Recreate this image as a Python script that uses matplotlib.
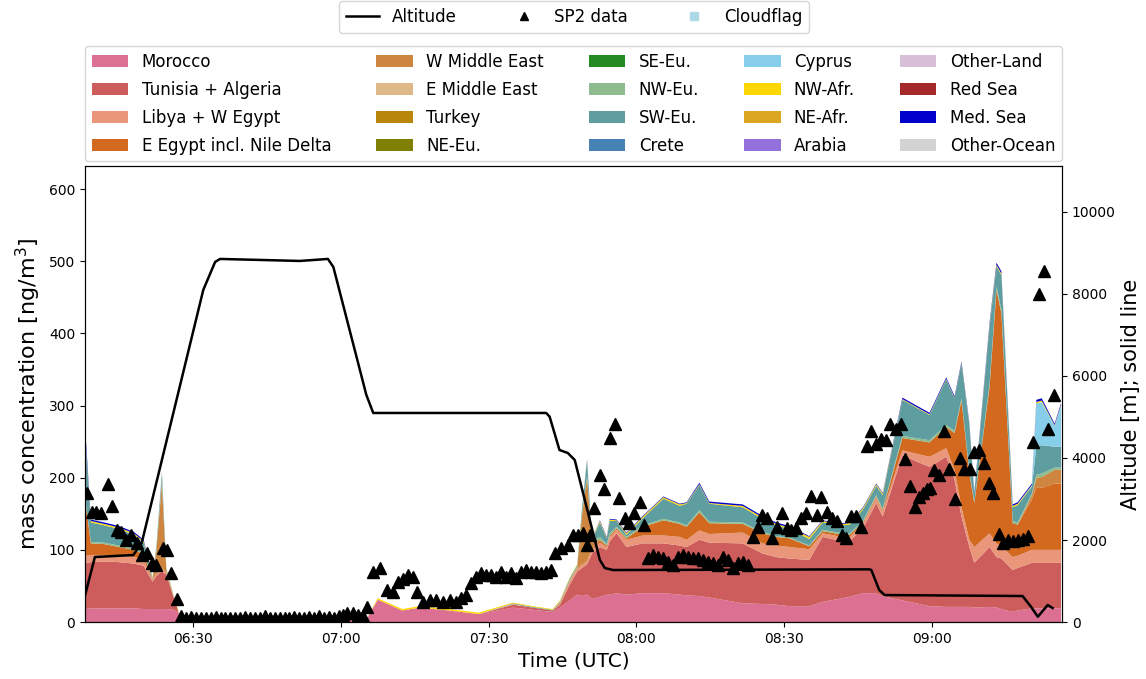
import numpy as np
import pandas as pd
import matplotlib
matplotlib.use('Agg')
import matplotlib.pyplot as plt
import matplotlib.dates as mdates

base = pd.Timestamp('2000-01-01 06:00')

# model output times (minutes after 06:00 UTC)
t_mod = [8.3, 9.3, 12, 15, 18, 20, 21.8, 22.6, 23.7, 24.6,
         26, 27.0, 27.6, 60, 61.5, 63.5, 65.0, 67.5, 72.5, 76,
         82, 88, 95, 99, 103, 104.5, 106.5, 108, 109, 110,
         111, 112.6, 114, 114.6, 116, 118, 121.3, 125.5, 128.8, 130.2,
         132.8, 134.8, 141.6, 145.6, 148.4, 151.1, 155.1, 157.8, 161.8, 163.3,
         166, 168.7, 170, 174, 179.5, 182.9, 184.6, 186, 187.6, 188.6,
         191.7, 193.1, 194.1, 196.4, 197.4, 200.3, 201.2, 202.3, 204.9, 206.2]

# upper edge of each band in the stack (ng/m3)
top_morocco = [18, 19, 19, 19, 19, 18, 18, 18, 18, 18,
               17, 14, 0, 0, 4, 4, 1, 31, 16, 20,
               16, 11, 20, 17, 14, 20, 30, 38, 36, 38,
               32, 35, 38, 38, 40, 38, 40, 40, 38, 37,
               36, 34, 26, 25, 24, 22, 22, 28, 33, 35,
               40, 40, 36, 30, 22, 21, 21, 21, 21, 20,
               21, 20, 18, 14, 16, 19, 19, 19, 19, 19]
top_tunisia = [82, 83, 84, 83, 81, 78, 56, 64, 70, 66,
               36, 16, 0, 0, 4, 4, 1, 31, 16, 20,
               16, 11, 24, 20, 16, 24, 52, 70, 75, 80,
               95, 104, 100, 112, 123, 104, 109, 109, 106, 104,
               114, 110, 109, 95, 90, 88, 86, 118, 112, 112,
               130, 165, 146, 231, 215, 229, 197, 146, 104, 82,
               104, 90, 88, 72, 75, 82, 82, 82, 82, 82]
top_libya = [92, 93, 93, 92, 90, 87, 58, 67, 73, 69,
             37, 16, 0, 0, 4, 4, 1, 31, 16, 20,
             16, 11, 25, 20, 16, 26, 56, 74, 79, 84,
             100, 110, 104, 118, 128, 114, 120, 120, 118, 114,
             127, 122, 124, 109, 106, 104, 101, 123, 118, 118,
             136, 172, 153, 238, 229, 241, 211, 159, 114, 104,
             123, 109, 105, 90, 92, 100, 100, 100, 100, 100]
top_eegypt = [160, 109, 108, 104, 100, 94, 59, 68, 74, 70,
              37, 16, 0, 0, 4, 4, 1, 31, 16, 20,
              16, 11, 25, 20, 16, 27, 57, 75, 80, 85,
              102, 113, 106, 120, 130, 116, 132, 141, 136, 132,
              152, 137, 136, 123, 118, 116, 105, 126, 121, 121,
              138, 174, 155, 255, 249, 270, 262, 307, 206, 165,
              326, 460, 428, 137, 135, 170, 186, 186, 192, 192]
top_wme = [160, 109, 108, 104, 100, 94, 59, 100, 192, 72,
           37, 16, 0, 0, 4, 4, 1, 31, 16, 20,
           16, 11, 25, 20, 16, 27, 58, 76, 150, 200,
           110, 114, 106, 120, 130, 116, 132, 141, 136, 132,
           152, 137, 136, 123, 118, 116, 105, 126, 121, 121,
           138, 174, 155, 255, 249, 270, 262, 307, 206, 165,
           326, 460, 428, 137, 135, 176, 200, 201, 211, 211]
top_nweu = [162, 111, 110, 106, 102, 96, 60, 102, 195, 73,
            37, 16, 0, 0, 4, 4, 1, 31, 16, 20,
            16, 11, 25, 20, 16, 28, 59, 77, 152, 203,
            112, 118, 108, 123, 132, 118, 134, 143, 138, 134,
            155, 139, 138, 125, 119, 117, 106, 128, 123, 123,
            140, 176, 157, 258, 252, 273, 265, 310, 209, 167,
            330, 465, 433, 140, 138, 178, 204, 206, 214, 214]
top_sweu = [240, 138, 134, 129, 121, 110, 61, 106, 206, 75,
            38, 16, 0, 0, 4, 4, 1, 31, 16, 20,
            16, 11, 26, 21, 17, 29, 61, 79, 160, 224,
            115, 138, 116, 140, 140, 121, 144, 171, 161, 164,
            190, 164, 159, 143, 134, 129, 115, 138, 134, 135,
            156, 189, 176, 308, 287, 336, 310, 358, 273, 177,
            410, 493, 481, 159, 162, 188, 244, 245, 243, 243]
top_cyprus = [240, 138, 134, 129, 121, 110, 61, 106, 206, 75,
              38, 16, 0, 0, 4, 4, 1, 31, 16, 20,
              16, 11, 26, 21, 17, 29, 61, 79, 160, 224,
              115, 138, 116, 140, 140, 121, 144, 171, 161, 164,
              190, 164, 159, 143, 134, 129, 115, 138, 134, 135,
              156, 189, 176, 308, 287, 336, 310, 358, 273, 177,
              410, 493, 481, 159, 162, 189, 303, 305, 272, 300]
top_nwafr = [242, 140, 136, 131, 123, 112, 62, 107, 207, 76,
             39, 17, 0, 0, 4, 4, 1, 33, 18, 22,
             18, 13, 27, 22, 18, 30, 62, 80, 161, 225,
             116, 140, 117, 142, 141, 123, 146, 173, 163, 165,
             191, 165, 161, 145, 136, 131, 118, 140, 136, 137,
             158, 191, 178, 309, 288, 337, 311, 359, 274, 178,
             412, 495, 483, 161, 164, 190, 305, 307, 273, 301]
top_medsea = [250, 142, 138, 133, 125, 114, 62, 107, 208, 76,
              39, 17, 0, 0, 4, 4, 1, 33, 18, 22,
              18, 13, 27, 22, 18, 30, 62, 80, 161, 226,
              116, 141, 118, 143, 142, 124, 147, 174, 164, 166,
              193, 167, 163, 147, 138, 133, 119, 141, 137, 138,
              159, 192, 179, 311, 290, 339, 313, 361, 276, 180,
              415, 498, 486, 163, 166, 192, 308, 310, 275, 303]

# SP2 measurements
t_sp2 = [8.6, 9.5, 10.4, 11.3, 12.7, 13.5, 14.5, 15.5, 16.5, 17.5,
         18.6, 19.6, 20.6, 21.6, 22.6, 24.0, 24.7, 25.5, 26.7,
         27.6, 28.6, 29.6, 30.6, 31.6, 32.6, 33.6, 34.6, 35.6, 36.6,
         37.6, 38.6, 39.6, 40.6, 41.6, 42.6, 43.6, 44.6, 45.6, 46.6,
         47.6, 48.6, 49.6, 50.6, 51.6, 52.6, 53.6, 54.6, 55.6, 56.6,
         57.6, 58.6, 59.6, 60.4, 61.2, 62.5, 63.6, 64.5, 65.4,
         66.5, 67.9, 69.3, 70.6, 71.6, 72.6, 73.6, 74.6, 75.4, 76.7,
         78.1, 79.4, 80.7, 82.1, 83.4, 84.5, 85.5,
         86.4, 87.4, 88.4, 89.5, 90.5, 91.5, 92.5, 93.5, 94.5, 95.5,
         96.6, 97.6, 98.6, 99.6, 100.6, 101.6, 102.6,
         103.4, 104.8, 106.1, 107.1, 108.1, 109.2, 109.9, 110.5, 111.5, 112.6,
         113.4, 114.6, 115.6, 116.4, 117.6, 118.6, 119.5, 120.7, 121.5,
         122.4, 123.4, 124.4, 125.4, 126.4, 127.5, 128.5, 129.5, 130.5, 131.5,
         132.5, 133.5, 134.5, 135.6, 136.6, 137.6, 138.6, 139.6, 140.6, 141.6, 142.6,
         143.6, 144.7, 145.6, 146.5, 147.6, 148.6, 149.6, 150.5, 151.4, 152.5,
         153.5, 154.5, 155.5, 156.6, 157.5, 158.7, 159.8, 160.7, 161.8, 162.6,
         163.5, 164.6, 165.6,
         166.8, 167.7, 168.7, 169.7, 170.7, 171.5, 172.7, 173.7, 174.6, 175.6,
         176.6, 177.3, 178.1, 178.9, 179.6, 180.5, 181.5, 182.5, 183.5, 184.6,
         185.6, 186.6, 187.7, 188.6, 189.6, 190.6, 191.5, 192.3, 193.7, 194.5,
         195.4, 196.4, 197.4, 198.4, 199.6, 200.6, 201.7, 202.8, 203.6, 204.8]
sp2 = [179, 153, 153, 151, 191, 161, 127, 125, 114, 120,
       109, 93, 95, 82, 79, 102, 100, 68, 32,
       8, 6, 7, 5, 6, 6, 5, 7, 6, 5,
       6, 5, 6, 7, 6, 5, 6, 8, 6, 5,
       6, 5, 6, 7, 6, 5, 7, 6, 8, 6,
       7, 6, 8, 10, 12, 13, 10, 8, 21,
       69, 75, 44, 42, 56, 60, 65, 63, 42, 28,
       30, 30, 28, 30, 28, 33, 37,
       54, 62, 68, 65, 65, 62, 69, 62, 68, 61,
       69, 72, 69, 69, 68, 69, 72,
       95, 102, 107, 120, 120, 123, 107, 120, 158, 204,
       185, 255, 275, 172, 144, 137, 151, 166, 134,
       89, 93, 90, 89, 83, 79, 90, 93, 90, 89,
       89, 86, 83, 82, 79, 90, 86, 75, 82, 83, 79,
       118, 132, 148, 144, 116, 132, 151, 130, 127, 130,
       144, 151, 175, 148, 173, 152, 144, 140, 120, 116,
       147, 147, 132,
       244, 265, 247, 253, 252, 275, 268, 275, 226, 188,
       159, 173, 179, 184, 186, 211, 204, 265, 212, 170,
       227, 212, 212, 235, 238, 220, 192, 179, 122, 109,
       114, 112, 114, 115, 119, 249, 455, 486, 267, 314]

# cloud flagged samples (none in this flight section)
t_cloud = []
cloud = []

# aircraft altitude
t_alt = [8.1, 10.1, 17.9, 19.6, 32.1, 34.5, 35.5, 51.7, 57.4, 58.5,
         65.2, 66.6, 101.7, 102.4, 104.4, 106.1, 107.5, 112.6, 113.6, 115.3,
         167.3, 167.7, 169.3, 170.4, 198.4, 200.1, 201.5, 203.5, 204.5]
alt = [650, 1585, 1634, 1927, 8098, 8780, 8854, 8805, 8854, 8659,
       5537, 5098, 5098, 5008, 4195, 4122, 3951, 1512, 1317, 1268,
       1285, 1268, 780, 658, 634, 373, 130, 415, 341]

regions = ['Morocco', 'Tunisia + Algeria', 'Libya + W Egypt', 'E Egypt incl. Nile Delta',
           'W Middle East', 'E Middle East', 'Turkey', 'NE-Eu.',
           'SE-Eu.', 'NW-Eu.', 'SW-Eu.', 'Crete',
           'Cyprus', 'NW-Afr.', 'NE-Afr.', 'Arabia',
           'Other-Land', 'Red Sea', 'Med. Sea', 'Other-Ocean']
colors = ['palevioletred', 'indianred', 'darksalmon', 'chocolate',
          'peru', 'burlywood', 'darkgoldenrod', 'olive',
          'forestgreen', 'darkseagreen', 'cadetblue', 'steelblue',
          'skyblue', 'gold', 'goldenrod', 'mediumpurple',
          'thistle', 'brown', 'mediumblue', 'lightgray']


def to_time(mins):
    return (base + pd.to_timedelta(mins, unit='m')).to_numpy()


# band thicknesses from the band edges
edges = np.vstack([np.zeros(len(t_mod)), top_morocco, top_tunisia, top_libya,
                   top_eegypt, top_wme, top_nweu, top_sweu, top_cyprus,
                   top_nwafr, top_medsea])
bands = np.clip(np.diff(edges, axis=0), 0, None)
nil = np.zeros(len(t_mod))
layers = [bands[0], bands[1], bands[2], bands[3],
          bands[4], nil, nil, nil,
          nil, bands[5], bands[6], nil,
          bands[7], bands[8], nil, nil,
          nil, nil, bands[9], nil]

fig = plt.figure(figsize=(11.46, 6.79), dpi=100)
ax = fig.add_axes([0.0742, 0.0839, 0.8525, 0.6716])

polys = ax.stackplot(to_time(t_mod), layers, labels=regions, colors=colors)
sp2_line, = ax.plot(to_time(t_sp2), sp2, '^', color='k', markersize=8.5,
                    linestyle='none', label='SP2 data')
cloud_line, = ax.plot(to_time(t_cloud), cloud, 's', color='lightblue',
                      markersize=8.5, linestyle='none', label='Cloudflag')

ax.set_ylim(0, 632)
ax.set_xlim(to_time([8.1])[0], to_time([206.4])[0])
ax.xaxis.set_major_locator(mdates.MinuteLocator(byminute=[0, 30]))
ax.xaxis.set_major_formatter(mdates.DateFormatter('%H:%M'))
ax.set_xlabel('Time (UTC)', fontsize=14.5)
ax.set_ylabel('mass concentration [ng/m$^3$]', fontsize=16)

ax2 = ax.twinx()
alt_line, = ax2.plot(to_time(t_alt), alt, color='k', lw=1.8, label='Altitude')
ax2.set_ylim(0, 11120)
ax2.set_ylabel('Altitude [m]; solid line', fontsize=15)

ax.legend(handles=polys, labels=regions, loc='lower left',
          bbox_to_anchor=(0, 1.01, 1, 0.3), mode='expand', ncol=5,
          fontsize=12, borderaxespad=0, labelspacing=0.6, handlelength=2.2)
fig.legend(handles=[alt_line, sp2_line, cloud_line],
           labels=['Altitude', 'SP2 data', 'Cloudflag'],
           loc='upper center', bbox_to_anchor=(0.501, 0.998), ncol=3,
           fontsize=12, markerscale=0.6, columnspacing=3.0, borderaxespad=0)

fig.savefig('out.png', dpi=100)
